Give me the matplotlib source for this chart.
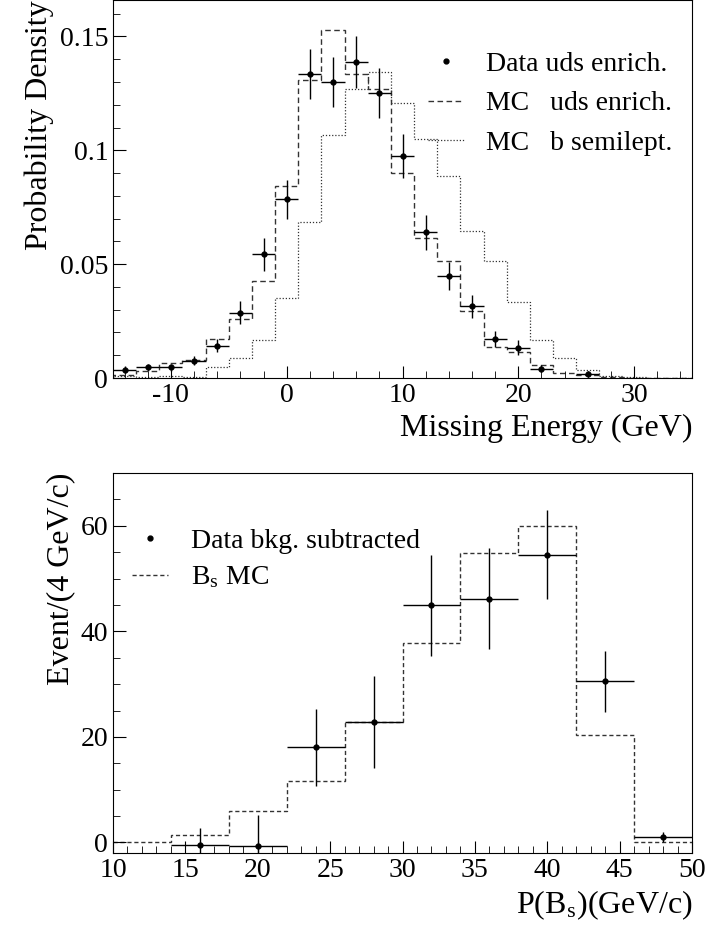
import matplotlib
matplotlib.use('Agg')
import matplotlib.pyplot as plt
import numpy as np
from matplotlib.ticker import MultipleLocator, FuncFormatter

plt.rcParams['font.family'] = ['Liberation Serif', 'DejaVu Serif']
plt.rcParams['mathtext.fontset'] = 'stix'
plt.rcParams['axes.unicode_minus'] = False

# top panel: missing energy, 2 GeV bins
e_centers = np.arange(-14, 36, 2)
data_x = [-14, -12, -10, -8, -6, -4, -2, 0, 2, 4, 6, 8, 10, 12, 14, 16, 18, 20, 22, 26]
data_y = [0.0037, 0.0047, 0.0047, 0.0076, 0.0142, 0.0286, 0.0544, 0.0784, 0.1337, 0.130,
          0.1387, 0.1253, 0.0974, 0.0639, 0.0448, 0.0315, 0.0171, 0.0133, 0.004, 0.0019]
data_err = [0.0015, 0.0015, 0.0015, 0.002, 0.003, 0.005, 0.0072, 0.0085, 0.011, 0.011,
            0.0115, 0.011, 0.0096, 0.0075, 0.006, 0.005, 0.0037, 0.0034, 0.0015, 0.001]
mc_uds = [0.0013, 0.003, 0.0064, 0.008, 0.017, 0.026, 0.0426, 0.0842, 0.131, 0.153,
          0.1337, 0.127, 0.090, 0.0615, 0.0516, 0.0296, 0.0138, 0.0116, 0.0059, 0.0022,
          0.0013, 0.0004, 0.0, 0.0, 0.0]
mc_b = [0.001, 0.0003, 0.001, 0.0006, 0.0047, 0.0086, 0.0168, 0.035, 0.0684, 0.1068,
        0.1267, 0.1345, 0.1209, 0.1049, 0.0889, 0.0646, 0.0516, 0.0333, 0.0168, 0.0086,
        0.0037, 0.001, 0.0003, 0.0002, 0.0]

# bottom panel: P(Bs), 4 GeV/c bins
p_x = [16, 20, 24, 28, 32, 36, 40, 44, 48]
p_y = [-0.5, -0.6, 18.0, 22.9, 44.9, 46.2, 54.5, 30.5, 1.0]
p_err = [3.3, 5.8, 7.3, 8.7, 9.6, 9.5, 8.4, 5.7, 1.0]
bs_centers = [12, 16, 20, 24, 28, 32, 36, 40, 44, 48]
bs_mc = [0.0, 1.5, 5.9, 11.7, 22.9, 37.8, 54.9, 59.9, 20.3, 0.1]

fig = plt.figure(figsize=(7.11, 9.27), dpi=100)
ax1 = fig.add_axes([113/711, 1 - 378/927, 579/711, 378/927])
ax2 = fig.add_axes([113/711, 1 - 853/927, 579/711, 380/927])

def steps(ax, centers, vals, w, ls, lw=1.0):
    edges = np.append(np.array(centers) - w/2, centers[-1] + w/2)
    ax.stairs(vals, edges, color='#333333', linestyle=ls, linewidth=lw)

def fmt(v, pos):
    s = ('%.2f' % v).rstrip('0').rstrip('.')
    return '0' if s in ('0', '-0') else s

steps(ax1, e_centers, mc_uds, 2, (0, (4, 2.5)))
steps(ax1, e_centers, mc_b, 2, (0, (1, 1.5)), 0.9)
ax1.errorbar(data_x, data_y, yerr=data_err, xerr=1, fmt='o', ms=3.5, color='black',
             elinewidth=1.0, capsize=0)
ax1.set_xlim(-15, 35)
ax1.set_ylim(0, 0.166)
ax1.xaxis.set_major_locator(MultipleLocator(10))
ax1.xaxis.set_minor_locator(MultipleLocator(2))
ax1.yaxis.set_major_locator(MultipleLocator(0.05))
ax1.yaxis.set_minor_locator(MultipleLocator(0.01))
ax1.yaxis.set_major_formatter(FuncFormatter(fmt))
ax1.set_xlabel('Missing Energy (GeV)', fontsize=23, loc='right')
ax1.set_ylabel('Probability Density', fontsize=23, loc='top')

ax1.plot([], [], 'o', ms=3.5, color='black', label='Data uds enrich.')
ax1.plot([], [], color='#333333', ls=(0, (4, 2.5)), lw=1, label='MC   uds enrich.')
ax1.plot([], [], color='#333333', ls=(0, (1, 1.5)), lw=0.9, label='MC   b semilept.')
h, l = ax1.get_legend_handles_labels()
ax1.legend(h[-3:], l[-3:], loc='upper right', frameon=False, fontsize=20,
           handlelength=1.3, labelspacing=0.5, bbox_to_anchor=(1.01, 0.93))

steps(ax2, bs_centers, bs_mc, 4, (0, (3, 2)))
ax2.errorbar(p_x, p_y, yerr=p_err, xerr=2, fmt='o', ms=3.5, color='black',
             elinewidth=1.0, capsize=0)
ax2.set_xlim(10, 50)
ax2.set_ylim(-2, 70)
ax2.xaxis.set_major_locator(MultipleLocator(5))
ax2.xaxis.set_minor_locator(MultipleLocator(1))
ax2.yaxis.set_major_locator(MultipleLocator(20))
ax2.yaxis.set_minor_locator(MultipleLocator(5))
ax2.set_xlabel('P(B$_\\mathregular{s}$)(GeV/c)', fontsize=23, loc='right')
ax2.set_ylabel('Event/(4 GeV/c)', fontsize=23, loc='top')
ax2.plot([], [], 'o', ms=3.5, color='black', label='Data bkg. subtracted')
ax2.plot([], [], color='#333333', ls=(0, (3, 2)), lw=1, label='B$_\\mathregular{s}$ MC')
h, l = ax2.get_legend_handles_labels()
ax2.legend(h[-2:], l[-2:], loc='upper left', frameon=False, fontsize=20,
           handlelength=1.3, labelspacing=0.4, bbox_to_anchor=(-0.01, 0.92))

for ax in (ax1, ax2):
    ax.tick_params(which='both', direction='in', labelsize=20, top=False, right=False)
    ax.tick_params(which='major', length=9)
    ax.tick_params(which='minor', length=5)

fig.savefig('out.png', dpi=100)
